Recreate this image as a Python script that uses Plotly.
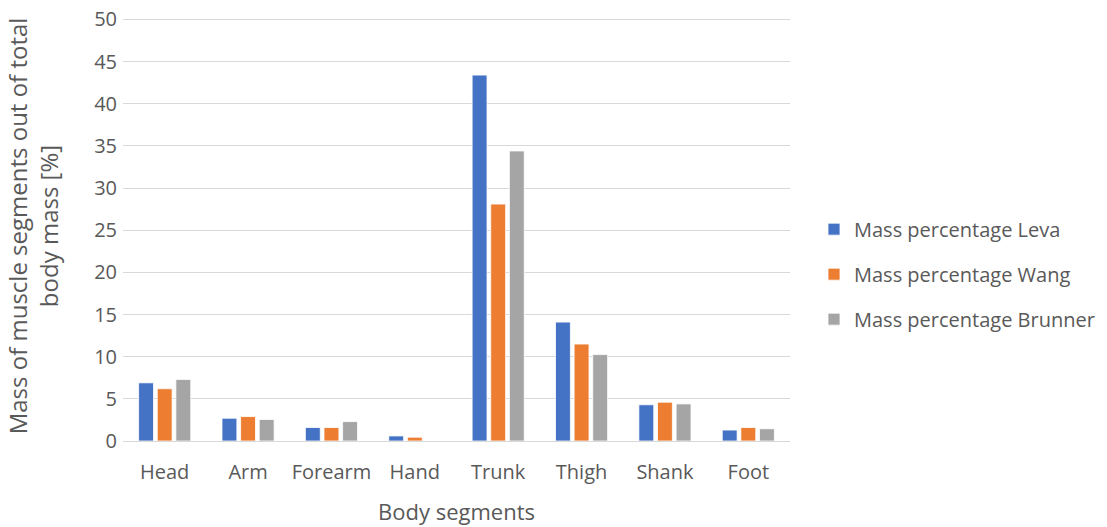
import plotly.graph_objects as go

segments = ["Head", "Arm", "Forearm", "Hand", "Trunk", "Thigh", "Shank", "Foot"]
leva = [6.9, 2.7, 1.6, 0.6, 43.4, 14.1, 4.3, 1.3]
wang = [6.2, 2.9, 1.6, 0.45, 28.1, 11.5, 4.6, 1.6]
brunner = [7.3, 2.55, 2.3, 0.0, 34.4, 10.25, 4.4, 1.45]

series = [
    ("Mass percentage Leva", leva, "#4472C4"),
    ("Mass percentage Wang", wang, "#ED7D31"),
    ("Mass percentage Brunner", brunner, "#A5A5A5"),
]

text_color = "#595959"
font_family = "Open Sans, Liberation Sans, sans-serif"

fig = go.Figure()
for i, (name, vals, color) in enumerate(series):
    fig.add_trace(go.Bar(
        x=segments, y=vals, name=name,
        marker=dict(color=color, line=dict(color="white", width=0.8)),
        legendgroup=f"g{i}",
    ))

# plot area spans 123..790 px horizontally; right side holds the legend
left, right_margin = 123, 200
area_w = 1107 - left - right_margin
x_end = (790 - left) / area_w

fig.update_layout(
    width=1107, height=527,
    margin=dict(l=left, r=right_margin, t=11, b=86, autoexpand=False),
    paper_bgcolor="white", plot_bgcolor="white",
    barmode="group", bargap=0.33, bargroupgap=0.2,
    font=dict(family=font_family, color=text_color, size=20),
    legend=dict(
        x=(814 - left) / area_w, y=0.388, xanchor="left", yanchor="middle",
        font=dict(size=20, color=text_color),
        traceorder="grouped", tracegroupgap=16,
        itemwidth=30,
    ),
    xaxis=dict(
        domain=[0, x_end], automargin=False,
        title=dict(text="Body segments", font=dict(size=22), standoff=20),
        tickfont=dict(size=20), ticklabelstandoff=13,
        showline=True, linecolor="#d9d9d9", linewidth=1.2,
        ticks="", showgrid=False,
    ),
    yaxis=dict(
        automargin=False,
        title=dict(text="Mass of muscle segments out of total<br>body mass [%]",
                   font=dict(size=24), standoff=28),
        range=[0, 51], tickvals=list(range(0, 51, 5)), tickfont=dict(size=20),
        showgrid=True, gridcolor="#d9d9d9", gridwidth=1.2,
        zeroline=False, ticks="", ticklabelstandoff=5,
    ),
)

fig.write_html("out.html")
